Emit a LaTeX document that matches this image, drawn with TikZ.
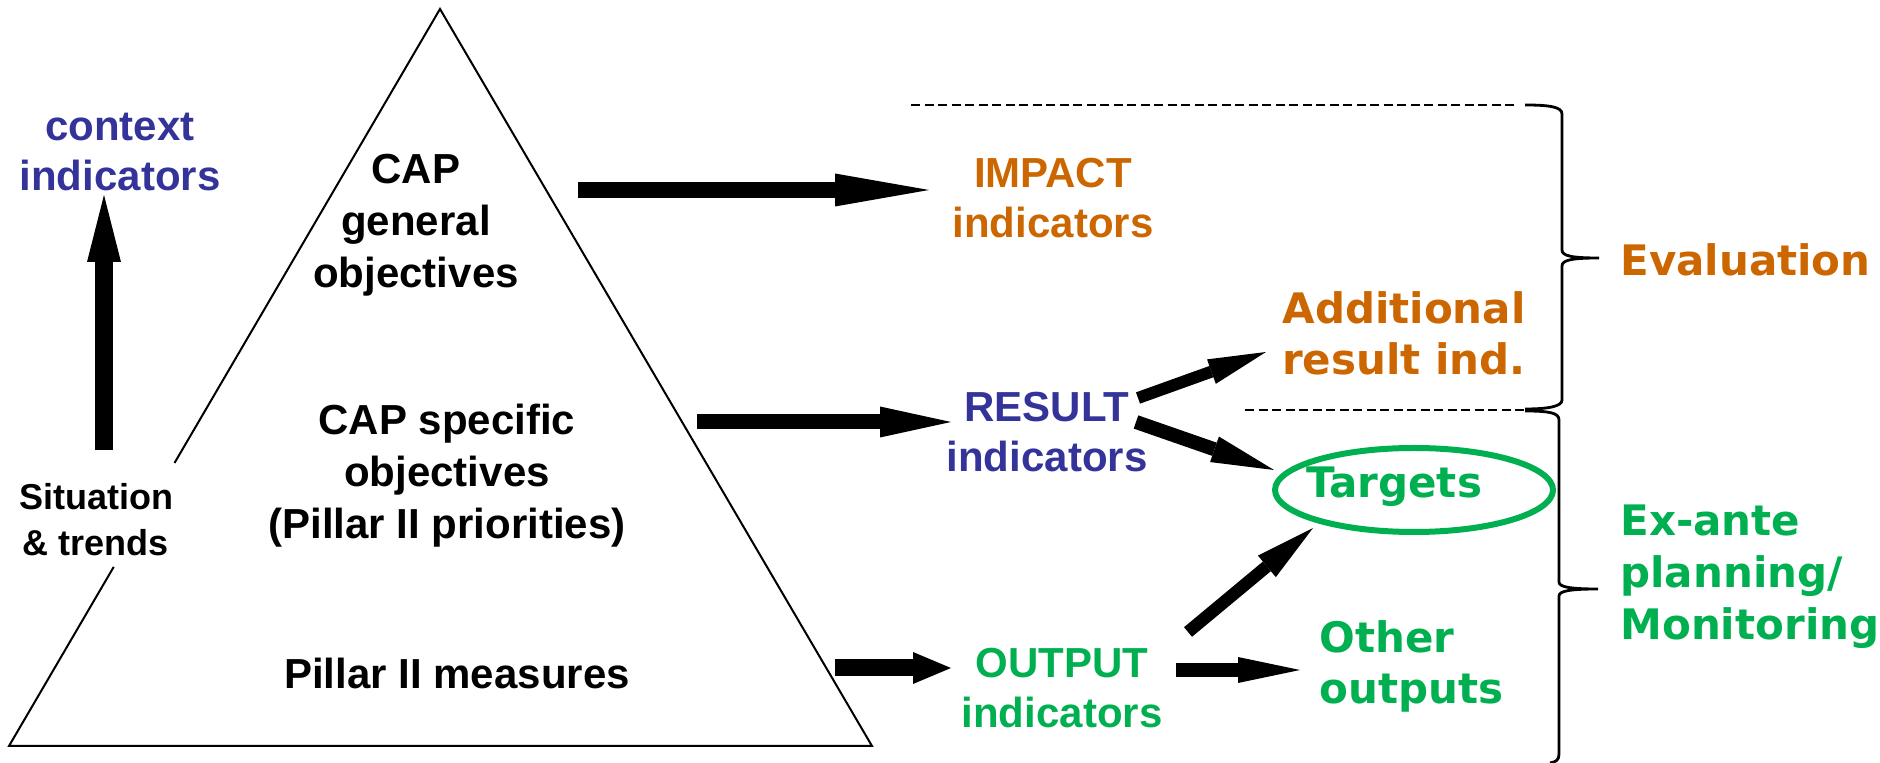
\documentclass[tikz,border=0pt]{standalone}
\usepackage{fontspec}
\setmainfont{Liberation Sans}
\newfontfamily\vfont{DejaVu Sans}
\usetikzlibrary{arrows.meta,calc,shapes.geometric}
\definecolor{cblue}{RGB}{51,51,153}
\definecolor{corange}{RGB}{204,102,0}
\definecolor{cgreen}{RGB}{0,176,80}
\begin{document}
\begin{tikzpicture}[x=0.5pt,y=-0.5pt,
  lbl/.style={inner sep=0pt, align=center, font=\fontsize{21}{25}\selectfont\bfseries},
  slbl/.style={inner sep=0pt, align=center, font=\fontsize{18}{23}\selectfont\bfseries},
  vlbl/.style={inner sep=0pt, align=left, font=\vfont\fontsize{21}{25.5}\selectfont\bfseries},
  bar/.style n args={3}{draw=black, line width=#1, line cap=butt,
     -{Triangle[length=#2,width=#3,line width=0pt]}},
  brace/.style={draw=black, line width=1.4pt},
  sep/.style={draw=black, line width=1pt, dash pattern=on 4.5pt off 2.25pt}]
\useasboundingbox (0,0) rectangle (1880,763);

% pyramid
\coordinate (A) at (440,9);
\coordinate (B) at (9,746);
\coordinate (C) at (872,746);
\draw[line width=1pt, line join=miter] ($(A)!0.616!(B)$) -- (A) -- (C) -- (B) -- ($(A)!0.757!(B)$);

% left texts
\node[lbl, text=cblue] (ctx) at (120,152) {context\\indicators};
\node[slbl] (sit) at (96,520) {Situation\\\& trends};

% pyramid texts
\node[lbl, font=\fontsize{21}{26}\selectfont\bfseries] (gen) at (416,225) {CAP\\general\\objectives};
\node[lbl, font=\fontsize{21}{26}\selectfont\bfseries] (spec) at (447,476) {CAP specific\\objectives\\(Pillar II priorities)};
\node[lbl] (meas) at (457,673) {Pillar II measures};

% indicator texts
\node[lbl, text=corange] (imp) at (1053,198) {IMPACT\\indicators};
\node[lbl, text=cblue] (res) at (1047,432) {RESULT\\indicators};
\node[lbl, text=cgreen] (out) at (1062,688) {OUTPUT\\indicators};
\node[vlbl, align=center, text=corange] (add) at (1404,333) {Additional\\result ind.};
\node[ellipse, minimum width=140pt, minimum height=42pt, inner sep=0pt,
      label={[vlbl, text=cgreen, xshift=-10pt, yshift=1.5pt]center:Targets}] (tgt) at (1414,490) {};
\draw[cgreen, line width=3pt] (tgt.center) ellipse [x radius=69.5pt, y radius=21pt];
\node[vlbl, text=cgreen, anchor=west] (oth) at (1319,666) {Other\\outputs};
\node[vlbl, text=corange, anchor=west] (eval) at (1620,260) {Evaluation};
\node[vlbl, text=cgreen, anchor=west, font=\vfont\fontsize{21}{26}\selectfont\bfseries] (exa) at (1620,577) {Ex-ante\\planning/\\Monitoring};

% arrow end points
\coordinate (upS) at (104,450);   \coordinate (upE) at (104,195);
\coordinate (g1) at (578,190);    \coordinate (i1) at (929,190);
\coordinate (s1) at (697,422);    \coordinate (r1) at (951,422);
\coordinate (m1) at (835,668);    \coordinate (o1) at (951,668);
\coordinate (rA) at (1138,398);   \coordinate (aA) at (1266,352);
\coordinate (rT) at (1136,422);   \coordinate (tR) at (1274,470);
\coordinate (oT) at (1188,632);   \coordinate (tO) at (1313,528);
\coordinate (oO) at (1176,670);   \coordinate (hO) at (1300,670);

\draw[bar={9pt}{33.5pt}{17pt}] (upS) -- (upE);
\draw[bar={8pt}{47pt}{16.5pt}] (g1) -- (i1);
\draw[bar={7.5pt}{35.5pt}{15.5pt}] (s1) -- (r1);
\draw[bar={8.5pt}{19pt}{16pt}] (m1) -- (o1);
\draw[bar={6pt}{29pt}{13pt}] (rA) -- (aA);
\draw[bar={7pt}{31.5pt}{13.5pt}] (rT) -- (tR);
\draw[bar={6.25pt}{30pt}{14pt}] (oT) -- (tO);
\draw[bar={7pt}{31pt}{13pt}] (oO) -- (hO);

% separators
\coordinate (d1a) at (911,105);  \coordinate (d1b) at (1515,105);
\coordinate (d2a) at (1245,410); \coordinate (d2b) at (1524,410);
\draw[sep] (d1a) -- (d1b);
\draw[sep] (d2a) -- (d2b);

% braces
\draw[brace] (1525,105) .. controls (1550,105) and (1562,107) .. (1562,114)
  -- (1562,250) .. controls (1562,256) and (1572,258) .. (1599,258)
  .. controls (1572,258) and (1562,260) .. (1562,266)
  -- (1562,400) .. controls (1562,406) and (1550,409) .. (1525,409);
\draw[brace] (1525,411) .. controls (1550,411) and (1559,413) .. (1559,420)
  -- (1559,582) .. controls (1559,587) and (1570,589) .. (1598,589)
  .. controls (1570,589) and (1559,591) .. (1559,596)
  -- (1559,754) .. controls (1559,760) and (1556,762) .. (1550,763);
\end{tikzpicture}
\end{document}
